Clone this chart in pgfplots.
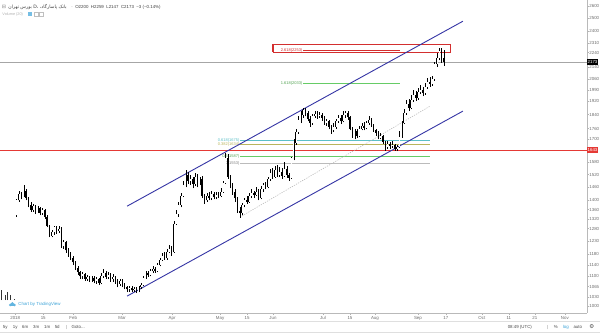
\documentclass[border=0pt]{standalone}
\usepackage{fontspec}
\setmainfont{Liberation Sans}
\newfontfamily\arabicfont[Script=Arabic]{DejaVu Sans}
\newfontfamily\djv{DejaVu Sans}
\TeXXeTstate=1
\usepackage{pgfplots}
\usepackage{pgfplotstable}
\pgfplotsset{compat=1.18}

\definecolor{chan}{HTML}{3535A5}
\definecolor{fteal}{HTML}{5CC0C8}
\definecolor{folive}{HTML}{B9B55C}
\definecolor{fgreen}{HTML}{66CC66}
\definecolor{fgrey}{HTML}{BBBBBB}
\definecolor{redl}{HTML}{E53935}
\definecolor{boxred}{HTML}{D32F2F}
\definecolor{labgrey}{HTML}{6E6E6E}
\definecolor{tvblue}{HTML}{3BA3D8}

\pgfplotstableread{
x o h l c
7 1335 1405 1330 1400
8 1400 1445 1395 1430
9 1430 1440 1405 1420
10 1420 1470 1415 1445
11 1445 1450 1400 1410
12 1410 1415 1370 1380
13 1380 1395 1350 1360
14 1360 1385 1350 1375
15 1375 1380 1340 1350
16 1350 1375 1345 1365
17 1365 1370 1335 1345
18 1345 1368 1338 1360
19 1360 1362 1320 1330
20 1330 1335 1285 1290
21 1290 1295 1245 1250
22 1250 1275 1245 1265
23 1265 1290 1255 1285
24 1285 1292 1260 1270
25 1270 1290 1262 1280
26 1280 1285 1205 1210
27 1210 1235 1200 1225
28 1225 1230 1185 1195
29 1195 1205 1170 1180
30 1180 1188 1158 1165
31 1165 1172 1140 1150
32 1150 1155 1122 1130
33 1130 1135 1105 1115
34 1115 1120 1092 1100
35 1100 1115 1090 1108
36 1108 1112 1085 1092
37 1092 1105 1085 1098
38 1098 1102 1080 1088
39 1088 1100 1080 1095
40 1095 1100 1076 1085
41 1085 1098 1075 1090
42 1090 1094 1070 1078
43 1078 1110 1072 1100
44 1100 1125 1095 1112
45 1112 1118 1090 1098
46 1098 1115 1090 1105
47 1105 1110 1082 1090
48 1090 1108 1080 1098
49 1098 1102 1075 1082
50 1082 1090 1062 1075
51 1075 1092 1068 1085
52 1085 1090 1062 1070
53 1070 1078 1055 1062
54 1062 1068 1046 1055
55 1055 1066 1048 1060
56 1060 1065 1045 1052
57 1052 1064 1046 1058
58 1058 1062 1043 1050
59 1050 1068 1045 1062
60 1062 1078 1058 1070
61 1070 1100 1065 1095
62 1095 1118 1090 1110
63 1110 1120 1098 1105
64 1105 1125 1100 1118
65 1118 1135 1112 1125
66 1125 1132 1112 1120
67 1120 1148 1115 1140
68 1140 1165 1135 1160
69 1160 1185 1155 1175
70 1175 1190 1158 1165
71 1165 1200 1160 1190
72 1190 1215 1185 1200
73 1200 1210 1175 1185
74 1190 1310 1185 1300
75 1300 1360 1295 1340
76 1340 1395 1330 1380
77 1380 1435 1370 1420
78 1420 1490 1415 1470
79 1470 1542 1460 1520
80 1520 1535 1475 1490
81 1490 1520 1470 1500
82 1500 1510 1455 1475
83 1475 1530 1465 1510
84 1510 1525 1460 1480
85 1480 1510 1470 1495
86 1500 1515 1410 1420
87 1420 1430 1385 1400
88 1400 1435 1395 1420
89 1420 1440 1400 1410
90 1410 1445 1402 1430
91 1430 1440 1405 1415
92 1415 1438 1405 1425
93 1425 1440 1410 1420
94 1420 1455 1415 1440
95 1440 1490 1435 1480
96 1480 1630 1475 1600
97 1600 1625 1500 1510
98 1510 1520 1455 1470
99 1470 1480 1425 1440
100 1440 1450 1395 1410
101 1410 1415 1345 1355
102 1355 1370 1325 1345
103 1345 1390 1335 1380
104 1380 1410 1370 1400
105 1400 1420 1385 1395
106 1395 1435 1390 1420
107 1420 1450 1410 1435
108 1435 1445 1410 1425
109 1425 1460 1420 1440
110 1440 1450 1400 1410
111 1410 1465 1405 1450
112 1450 1480 1440 1470
113 1470 1485 1450 1460
114 1460 1510 1455 1500
115 1500 1545 1490 1530
116 1530 1550 1500 1510
117 1510 1560 1505 1540
118 1540 1565 1510 1520
119 1520 1555 1510 1535
120 1535 1550 1500 1515
121 1515 1580 1510 1545
122 1545 1560 1505 1520
123 1520 1530 1490 1505
124 1505 1610 1500 1600
125 1600 1700 1590 1680
126 1680 1760 1670 1740
127 1740 1830 1730 1810
128 1810 1860 1790 1840
129 1840 1880 1820 1865
130 1865 1878 1830 1850
131 1850 1860 1800 1815
132 1815 1830 1770 1790
133 1790 1845 1780 1830
134 1830 1860 1820 1845
135 1845 1860 1815 1830
136 1830 1855 1820 1840
137 1840 1850 1805 1820
138 1820 1830 1780 1790
139 1790 1815 1775 1800
140 1800 1810 1755 1770
141 1770 1780 1730 1750
142 1750 1790 1740 1770
143 1770 1815 1760 1800
144 1800 1835 1790 1820
145 1820 1840 1785 1800
146 1800 1860 1795 1835
147 1835 1862 1820 1850
148 1850 1858 1810 1825
149 1825 1830 1750 1760
150 1760 1770 1710 1730
151 1730 1760 1700 1745
152 1745 1755 1705 1720
153 1720 1775 1715 1760
154 1760 1790 1750 1775
155 1775 1795 1750 1765
156 1765 1805 1755 1790
157 1790 1830 1780 1810
158 1810 1820 1770 1780
159 1780 1785 1740 1750
160 1750 1760 1720 1735
161 1735 1745 1700 1710
162 1710 1735 1700 1720
163 1720 1725 1675 1685
164 1685 1690 1640 1660
165 1660 1690 1650 1675
166 1675 1685 1650 1665
167 1665 1690 1655 1670
168 1670 1675 1640 1650
169 1650 1670 1638 1660
170 1660 1745 1655 1715
171 1715 1805 1710 1790
172 1790 1870 1785 1850
173 1850 1930 1840 1900
174 1900 1935 1860 1880
175 1880 1960 1870 1930
176 1930 1990 1915 1960
177 1960 1985 1920 1940
178 1940 2000 1930 1975
179 1975 2020 1965 1990
180 1990 2010 1950 1970
181 1970 2035 1960 2010
182 2010 2065 1995 2040
183 2040 2070 2010 2030
184 2030 2080 2015 2060
185 2060 2175 2050 2160
186 2160 2240 2140 2200
187 2200 2275 2185 2250
188 2250 2270 2170 2176
189 2200 2259 2147 2173
}\candles

\pgfplotstableread{
x b t
0.5 1020 1053
2.1 1020 1036
3.0 1020 1046
4.2 1020 1036
5.9 1020 1025
}\vol

\begin{document}
\begin{tikzpicture}
\fill[white] (0,0) rectangle (600pt,334pt);
\begin{axis}[
  at={(0pt,21pt)}, anchor=south west,
  width=587pt, height=313pt, scale only axis,
  ymode=log, ymin=979, ymax=2646,
  xmin=0, xmax=249.79,
  clip mode=individual,
  axis x line*=bottom, axis y line*=right,
  axis line style={draw=gray!55, line width=0.5pt},
  tick align=outside, major tick length=1.8pt,
  tick style={draw=gray!60, line width=0.4pt},
  minor tick num=0,
  xtick={6.38,18.30,31.06,51.91,73.19,93.62,105.1,116.17,137.45,148.94,159.57,177.87,189.79,205.11,216.6,227.66,240.43},
  xticklabels={2018,15,Feb,Mar,Apr,May,15,Jun,Jul,15,Aug,Sep,17,Oct,11,21,Nov},
  xticklabel style={font=\fontsize{4.4}{5}\selectfont, text=labgrey, inner sep=0pt, yshift=-1.2pt},
  ytick={1000,1030,1065,1100,1140,1180,1230,1280,1320,1360,1400,1460,1520,1580,1700,1760,1840,1920,1990,2060,2140,2240,2310,2400,2500,2600},
  yticklabels={1000,1030,1065,1100,1140,1180,1230,1280,1320,1360,1400,1460,1520,1580,1700,1760,1840,1920,1990,2060,2140,2240,2310,2400,2500,2600},
  yticklabel style={font=\fontsize{4.4}{5}\selectfont, text=labgrey, inner sep=0pt, anchor=west, xshift=0.6pt},
  yticklabel pos=right,
  candle/.style={draw=none, mark=none, forget plot, error bars/.cd, y dir=plus, y explicit, error mark=none},
]
% horizontal lines
\addplot[redl, line width=0.9pt, forget plot] coordinates {(0,1643) (249.79,1643)};
\addplot[gray!70, line width=0.5pt, forget plot] coordinates {(0,2173) (249.79,2173)};
% fib levels
\addplot[fteal, line width=0.7pt, forget plot] coordinates {(102.13,1693) (182.98,1693)};
\addplot[folive, line width=0.7pt, forget plot] coordinates {(102.13,1675) (182.98,1675)};
\addplot[fgreen, line width=0.9pt, forget plot] coordinates {(102.13,1608) (182.98,1608)};
\addplot[fgrey, line width=0.9pt, forget plot] coordinates {(102.13,1575) (182.98,1575)};
\addplot[fgreen, line width=0.9pt, forget plot] coordinates {(128.94,2033) (170.21,2033)};
\addplot[boxred, line width=0.7pt, forget plot] coordinates {(128.94,2253) (170.21,2253)};
\addplot[boxred, line width=1.2pt, forget plot] coordinates {(116.17,2243) (191.9,2243) (191.9,2301) (116.17,2301) (116.17,2243)};
\node[anchor=east, inner sep=0.5pt, font=\fontsize{4}{4.5}\selectfont, text=fteal] at (axis cs:102.13,1696) {0.618(1675)};
\node[anchor=east, inner sep=0.5pt, font=\fontsize{4}{4.5}\selectfont, text=folive] at (axis cs:102.13,1672) {0.382(1634)};
\node[anchor=east, inner sep=0.5pt, font=\fontsize{4}{4.5}\selectfont, text=fgreen!80!black] at (axis cs:102.13,1608) {0.5(1587)};
\node[anchor=east, inner sep=0.5pt, font=\fontsize{4}{4.5}\selectfont, text=gray] at (axis cs:102.13,1575) {0(1553)};
\node[anchor=east, inner sep=0.5pt, font=\fontsize{4}{4.5}\selectfont, text=fgreen!80!black] at (axis cs:128.94,2033) {1.618(2033)};
\node[anchor=east, inner sep=0.5pt, font=\fontsize{4}{4.5}\selectfont, text=boxred] at (axis cs:128.94,2253) {2.618(2253)};
% channel
\addplot[chan, line width=0.9pt, forget plot] coordinates {(54.04,1375) (197.02,2475)};
\addplot[chan, line width=0.9pt, forget plot] coordinates {(54.04,1033) (197.02,1860)};
\addplot[gray!60, line width=0.5pt, dash pattern=on 1.2pt off 1.2pt, forget plot] coordinates {(102.13,1328) (182.98,1889)};
% volume-like bars at left edge
\addplot[candle, error bar style={draw=black!80, line width=1.2pt}]
  table[x=x, y=b, y error expr=\thisrow{t}-\thisrow{b}] {\vol};
% wicks
\addplot[candle, error bar style={draw=black, line width=0.45pt}]
  table[x=x, y=l, y error expr=\thisrow{h}-\thisrow{l}] {\candles};
% down bodies
\addplot[restrict expr to domain={\thisrow{o}-\thisrow{c}}{0.5:100000}, candle, error bar style={draw=black, line width=1.5pt}]
  table[x=x, y=c, y error expr=\thisrow{o}-\thisrow{c}] {\candles};
% up bodies (outline + white fill)
\addplot[restrict expr to domain={\thisrow{c}-\thisrow{o}}{0.5:100000}, candle, error bar style={draw=black, line width=1.5pt}]
  table[x=x, y=o, y error expr=\thisrow{c}-\thisrow{o}] {\candles};
\addplot[restrict expr to domain={\thisrow{c}-\thisrow{o}}{0.5:100000}, candle, error bar style={draw=white, line width=0.7pt}]
  table[x=x, y=o, y error expr=\thisrow{c}-\thisrow{o}] {\candles};
% price markers
\node[anchor=west, fill=black, text=white, inner xsep=0.6pt, inner ysep=0pt, minimum height=6.5pt, font=\fontsize{4.4}{5}\selectfont] at (axis cs:249.79,2173) {2173};
\node[anchor=west, fill=redl, text=white, inner xsep=0.6pt, inner ysep=0pt, minimum height=6.5pt, font=\fontsize{4.4}{5}\selectfont] at (axis cs:249.79,1643) {1643};
\end{axis}
% header
\node[anchor=west, inner sep=0, text=gray, font=\djv\fontsize{5}{6}\selectfont] at (1.5pt,327pt) {⊟};
\node[anchor=west, inner sep=0, text=black!75, font=\fontsize{4.6}{5}\selectfont] at (8pt,327pt) {\arabicfont\beginR بانک پاسارگاد، D، بورس تهران\endR};
\node[anchor=west, inner sep=0, text=black!75, font=\fontsize{4.4}{5}\selectfont] at (71pt,327pt) {·\ \ O2200\ \ H2259\ \ L2147\ \ C2173\ \ −3 (−0.14\%)};
\node[anchor=west, inner sep=0, text=gray!60, font=\fontsize{3.8}{4}\selectfont] at (2pt,320pt) {Volume (20)};
\fill[tvblue!70] (28pt,318pt) rectangle (32pt,322pt);
\draw[gray!50, line width=0.3pt] (33.5pt,318pt) rectangle (37.5pt,322pt);
\draw[gray!50, line width=0.3pt] (39pt,318pt) rectangle (43pt,322pt);
% watermark
\fill[tvblue!80] (10pt,29pt) circle (1.4pt) (12.2pt,30.2pt) circle (1.8pt) (14.3pt,29pt) circle (1.3pt);
\fill[tvblue!80] (9.6pt,27.7pt) rectangle (14.6pt,29pt);
\node[anchor=west, inner sep=0, text=tvblue, font=\fontsize{4.4}{5}\selectfont] at (18pt,29.5pt) {Chart by TradingView};
% toolbar
\draw[gray!25, line width=0.4pt] (0pt,13pt) -- (600pt,13pt);
\draw[gray!25, line width=0.4pt] (0pt,1.5pt) -- (600pt,1.5pt);
\foreach \lab/\xx in {5y/5,1y/15,6m/25,3m/36,1m/47,5d/57}
  \node[inner sep=0, text=black!70, font=\fontsize{4.4}{5}\selectfont] at (\xx pt,7pt) {\lab};
\draw[gray!35, line width=0.3pt] (66pt,4.5pt) -- (66pt,9.5pt);
\node[inner sep=0, text=black!70, font=\fontsize{4.4}{5}\selectfont] at (78pt,7pt) {Goto...};
\node[inner sep=0, text=black!70, font=\fontsize{4.4}{5}\selectfont] at (520pt,7pt) {08:49 (UTC)};
\draw[gray!35, line width=0.3pt] (547pt,4.5pt) -- (547pt,9.5pt);
\node[inner sep=0, text=black!70, font=\fontsize{4.4}{5}\selectfont] at (556pt,7pt) {\%};
\node[inner sep=0, text=tvblue, font=\fontsize{4.4}{5}\selectfont] at (566pt,7pt) {log};
\node[inner sep=0, text=black!70, font=\fontsize{4.4}{5}\selectfont] at (578pt,7pt) {auto};
\node[inner sep=0, text=black!70, font=\djv\fontsize{5.5}{6}\selectfont] at (592pt,7pt) {⚙};
\end{tikzpicture}
\end{document}
